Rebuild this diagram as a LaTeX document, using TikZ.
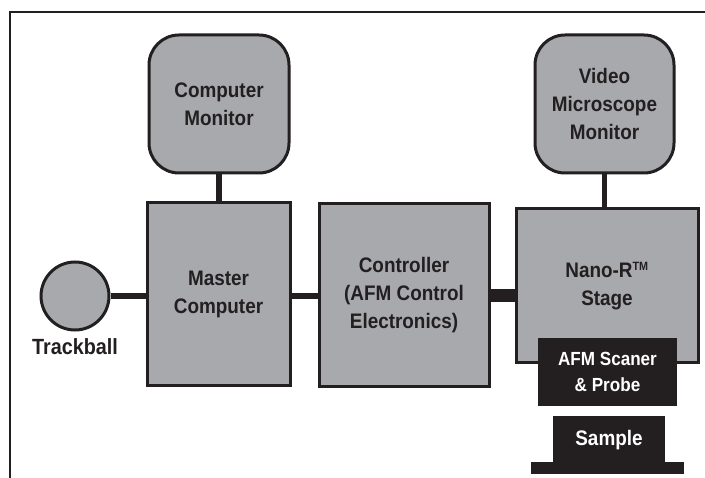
\documentclass[tikz,border=0pt]{standalone}
\usepackage{fontspec}
\setmainfont{Liberation Sans}[FakeStretch=0.9]
\definecolor{ink}{HTML}{231F20}
\definecolor{boxgray}{HTML}{A7A9AC}
\begin{document}
\begin{tikzpicture}[x=1pt,y=-1pt,
  box/.style={draw=ink, fill=boxgray, line width=3pt, inner sep=0pt,
    align=center, text=ink, font=\bfseries\fontsize{21}{28}\selectfont},
  monitor/.style={box, rounded corners=30pt},
  darkbox/.style={fill=ink, text=white, inner sep=0pt, align=center,
    font=\bfseries\fontsize{19}{26}\selectfont},
  conn/.style={draw=ink, line width=5.5pt},
  bus/.style={draw=ink, line width=13pt}]
\useasboundingbox (0,0) rectangle (705,478);

% outer frame (open to the right and bottom)
\draw[ink, line width=2.8pt] (10,478) -- (10,12) -- (706,12);

% monitors
\node[monitor, minimum width=140pt, minimum height=138pt] (cm) at (219,104) {Computer\\Monitor};
\node[monitor, minimum width=139pt, minimum height=138pt] (vmm) at (604.5,104) {Video\\Microscope\\Monitor};

% main chain
\node[box, circle, minimum size=68pt] (tb) at (75,296) {};
\node[text=ink, font=\bfseries\fontsize{22}{28}\selectfont, inner sep=0pt] (tblabel) at (75,347) {Trackball};
\node[box, minimum width=143pt, minimum height=183pt] (mc) at (218.5,294.5) {Master\\Computer};
\node[box, minimum width=170pt, minimum height=183pt] (ctrl) at (404,295.5) {Controller\\(AFM Control\\Electronics)};
\node[box, minimum width=182pt, minimum height=154pt] (nano) at (607,286) {Nano-R\textsuperscript{\fontsize{12}{12}\selectfont TM}\\Stage};

% scanner head and sample
\node[darkbox, minimum width=139pt, minimum height=68pt] (afm) at (607.5,372) {AFM Scaner\\\& Probe};
\node[darkbox, minimum width=112pt, minimum height=47pt, font=\bfseries\fontsize{21}{28}\selectfont] (sample) at (609,440) {Sample};
\coordinate (baseL) at (531,462.5);
\coordinate (baseR) at (684,474);
\fill[ink] (baseL) rectangle (baseR);

% connectors
\draw[conn] (cm.south) -- (cm.south |- mc.north);
\draw[conn] (vmm.south) -- (vmm.south |- nano.north);
\draw[conn] (tb.east) -- (tb.east -| mc.west);
\draw[conn] (mc.east |- tb.east) -- (ctrl.west |- tb.east);
\draw[bus] (ctrl.east |- tb.east) -- (nano.west |- tb.east);
\end{tikzpicture}
\end{document}
